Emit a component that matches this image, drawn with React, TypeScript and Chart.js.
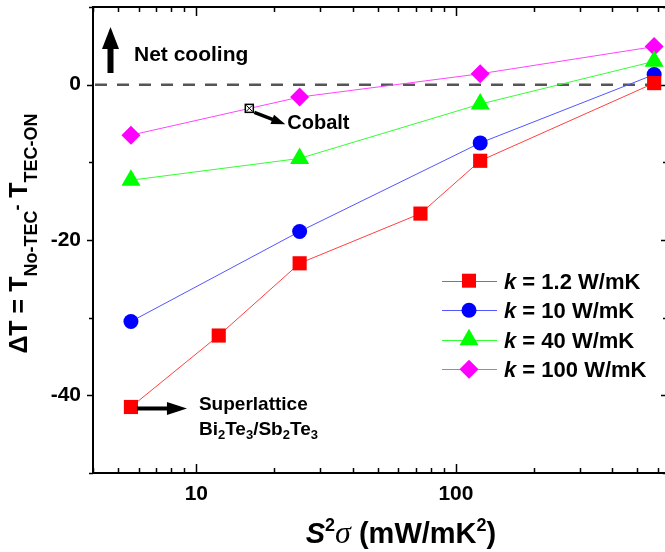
import { useEffect, useRef } from "react";
import { Chart, registerables } from "chart.js";

Chart.register(...registerables);

// Power factor S²σ (mW/mK²) and temperature difference ΔT (K)
const xK1p2 = [5.6, 12.2, 25, 73, 124, 580];
const dTK1p2 = [-41.5, -32.3, -23.0, -16.6, -9.8, 0.2];
const xSweep = [5.6, 25, 124, 580];
const dTK10 = [-30.5, -18.9, -7.5, 1.3];
const dTK40 = [-12.3, -9.5, -2.5, 3.0];
const dTK100 = [-6.5, -1.6, 1.4, 4.9];

const kLabels = ["1.2", "10", "40", "100"];
const seriesColors = ["#ff0000", "#0000ff", "#00ff00", "#ff00ff"];
const lineColors = ["#ff4040", "#5555ff", "#33ff33", "#ff44ff"];

// Cobalt reference point on the k = 100 W/mK curve
const cobaltX = [16];
const cobaltY = [-3.05];

const xMajorTicks = [10, 100];
const xMinorTicks = [4, 5, 6, 7, 8, 9, 20, 30, 40, 50, 60, 70, 80, 90, 200, 300, 400, 500, 600];
const yMajorTicks = [-40, -20, 0];
const yMinorTicks = [-50, -30, -10, 10];

const FONT = "'Liberation Sans', Arial, sans-serif";
const PLOT_TOP = 7;

type Run = { t: string; font: string; dy?: number };

function runsWidth(ctx: CanvasRenderingContext2D, runs: Run[]) {
  let w = 0;
  for (const r of runs) {
    ctx.font = r.font;
    w += ctx.measureText(r.t).width;
  }
  return w;
}

function drawRuns(ctx: CanvasRenderingContext2D, runs: Run[], x: number, y: number, align: "left" | "center") {
  let cx = align === "center" ? x - runsWidth(ctx, runs) / 2 : x;
  ctx.textAlign = "left";
  ctx.textBaseline = "alphabetic";
  for (const r of runs) {
    ctx.font = r.font;
    ctx.fillText(r.t, cx, y + (r.dy || 0));
    cx += ctx.measureText(r.t).width;
  }
}

function arrow(ctx: CanvasRenderingContext2D, x0: number, y0: number, x1: number, y1: number, shaft: number, headLen: number, headW: number) {
  const a = Math.atan2(y1 - y0, x1 - x0);
  const len = Math.hypot(x1 - x0, y1 - y0);
  ctx.save();
  ctx.translate(x0, y0);
  ctx.rotate(a);
  ctx.fillStyle = "#000";
  ctx.fillRect(0, -shaft / 2, len - headLen + 1, shaft);
  ctx.beginPath();
  ctx.moveTo(len, 0);
  ctx.lineTo(len - headLen, -headW / 2);
  ctx.lineTo(len - headLen, headW / 2);
  ctx.closePath();
  ctx.fill();
  ctx.restore();
}

function drawMarker(ctx: CanvasRenderingContext2D, style: string, x: number, y: number, color: string) {
  ctx.fillStyle = color;
  ctx.beginPath();
  if (style === "rect") {
    ctx.rect(x - 7, y - 7, 14, 14);
  } else if (style === "circle") {
    ctx.arc(x, y, 7.5, 0, Math.PI * 2);
  } else if (style === "triangle") {
    const r = 11;
    ctx.moveTo(x, y - r);
    ctx.lineTo(x + r * 0.866, y + r * 0.5);
    ctx.lineTo(x - r * 0.866, y + r * 0.5);
    ctx.closePath();
  } else {
    const r = 9.5;
    ctx.moveTo(x - r, y);
    ctx.lineTo(x, y - r);
    ctx.lineTo(x + r, y);
    ctx.lineTo(x, y + r);
    ctx.closePath();
  }
  ctx.fill();
}

const markerStyles = ["rect", "circle", "triangle", "rectRot"];

// Pin the top of the plot area so the frame starts just below the canvas edge
const plotTop = {
  id: "plotTop",
  afterLayout(chart: any) {
    const ys = chart.scales.y;
    const area = chart.chartArea;
    ys.top = PLOT_TOP;
    ys.bottom = area.bottom;
    ys.height = area.bottom - PLOT_TOP;
    ys.configure();
    area.top = PLOT_TOP;
    area.height = area.bottom - PLOT_TOP;
  },
};

const underlay = {
  id: "zeroLine",
  beforeDatasetsDraw(chart: any) {
    const { ctx, chartArea, scales } = chart;
    const y0 = scales.y.getPixelForValue(0);
    ctx.save();
    ctx.strokeStyle = "#555555";
    ctx.lineWidth = 2.5;
    ctx.setLineDash([12, 10]);
    ctx.beginPath();
    ctx.moveTo(chartArea.left + 2, y0);
    ctx.lineTo(chartArea.right, y0);
    ctx.stroke();
    ctx.restore();
  },
};

const overlay = {
  id: "frameAndNotes",
  afterDraw(chart: any) {
    const { ctx, chartArea, scales } = chart;
    const xs = scales.x;
    const ys = scales.y;
    const L = chartArea.left;
    const R = chartArea.right;
    const T = chartArea.top;
    const B = chartArea.bottom;
    ctx.save();

    // frame
    ctx.strokeStyle = "#000";
    ctx.lineWidth = 2;
    ctx.strokeRect(L, T, R - L, B - T);

    // x ticks, pointing inward on bottom and top edges
    ctx.lineWidth = 1.5;
    ctx.beginPath();
    for (const v of xMajorTicks) {
      const p = Math.round(xs.getPixelForValue(v)) + 0.5;
      ctx.moveTo(p, B); ctx.lineTo(p, B - 9);
      ctx.moveTo(p, T); ctx.lineTo(p, T + 9);
    }
    for (const v of xMinorTicks) {
      const p = Math.round(xs.getPixelForValue(v)) + 0.5;
      ctx.moveTo(p, B); ctx.lineTo(p, B - 5);
      ctx.moveTo(p, T); ctx.lineTo(p, T + 5);
    }
    // y ticks, pointing outward on the left edge and inward on the right edge
    for (const v of yMajorTicks) {
      const p = Math.round(ys.getPixelForValue(v)) + 0.5;
      ctx.moveTo(L, p); ctx.lineTo(L - 6, p);
      ctx.moveTo(R, p); ctx.lineTo(R - 6, p);
    }
    for (const v of yMinorTicks) {
      const p = Math.round(ys.getPixelForValue(v)) + 0.5;
      ctx.moveTo(L, p); ctx.lineTo(L - 4, p);
      ctx.moveTo(R, p); ctx.lineTo(R - 4, p);
    }
    ctx.stroke();

    ctx.fillStyle = "#000";

    // Net cooling note
    arrow(ctx, 110.5, 73, 110.5, 27, 6, 22, 17);
    drawRuns(ctx, [{ t: "Net cooling", font: `bold 21px ${FONT}` }], 134, 61, "left");

    // Cobalt marker and note
    const cx = xs.getPixelForValue(cobaltX[0]);
    const cy = ys.getPixelForValue(cobaltY[0]);
    ctx.fillStyle = "#fff";
    ctx.fillRect(cx - 4, cy - 4, 8, 8);
    ctx.strokeStyle = "#000";
    ctx.lineWidth = 1.5;
    ctx.strokeRect(cx - 4, cy - 4, 8, 8);
    ctx.lineWidth = 1;
    ctx.beginPath();
    ctx.moveTo(cx - 3, cy - 3); ctx.lineTo(cx + 3, cy + 3);
    ctx.moveTo(cx + 3, cy - 3); ctx.lineTo(cx - 3, cy + 3);
    ctx.stroke();
    arrow(ctx, cx + 5, cy + 4, cx + 36, cy + 16, 3.5, 14, 10);
    ctx.fillStyle = "#000";
    drawRuns(ctx, [{ t: "Cobalt", font: `bold 20px ${FONT}` }], cx + 38, cy + 21, "left");

    // Superlattice note next to the lowest k = 1.2 W/mK point
    const sx = xs.getPixelForValue(xK1p2[0]);
    const sy = ys.getPixelForValue(dTK1p2[0]);
    arrow(ctx, sx + 6, sy + 1.5, sx + 56, sy + 1.5, 4, 20, 13);
    const f19 = `bold 19px ${FONT}`;
    const f13 = `bold 13px ${FONT}`;
    drawRuns(ctx, [{ t: "Superlattice", font: f19 }], sx + 68, sy + 3, "left");
    drawRuns(
      ctx,
      [
        { t: "Bi", font: f19 },
        { t: "2", font: f13, dy: 4 },
        { t: "Te", font: f19 },
        { t: "3", font: f13, dy: 4 },
        { t: "/Sb", font: f19 },
        { t: "2", font: f13, dy: 4 },
        { t: "Te", font: f19 },
        { t: "3", font: f13, dy: 4 },
      ],
      sx + 68,
      sy + 28,
      "left"
    );

    // legend
    const legendTop = 280.7;
    const legendGap = 29.5;
    for (let i = 0; i < kLabels.length; i++) {
      const y = legendTop + i * legendGap;
      ctx.strokeStyle = lineColors[i];
      ctx.lineWidth = 1;
      ctx.beginPath();
      ctx.moveTo(442, Math.round(y) + 0.5);
      ctx.lineTo(497, Math.round(y) + 0.5);
      ctx.stroke();
      drawMarker(ctx, markerStyles[i], 469, y, seriesColors[i]);
      ctx.fillStyle = "#000";
      drawRuns(
        ctx,
        [
          { t: "k", font: `italic bold 22px ${FONT}` },
          { t: " = " + kLabels[i] + " W/mK", font: `bold 22px ${FONT}` },
        ],
        504,
        y + 8,
        "left"
      );
    }

    // x-axis title
    ctx.fillStyle = "#000";
    drawRuns(
      ctx,
      [
        { t: "S", font: `italic bold 29px ${FONT}` },
        { t: "2", font: `bold 18px ${FONT}`, dy: -12 },
        { t: "σ", font: `italic 32px 'Liberation Serif', serif` },
        { t: " (mW/mK", font: `bold 29px ${FONT}` },
        { t: "2", font: `bold 18px ${FONT}`, dy: -12 },
        { t: ")", font: `bold 29px ${FONT}` },
      ],
      401,
      543,
      "center"
    );

    // y-axis title
    ctx.save();
    ctx.translate(27, 233.5);
    ctx.rotate(-Math.PI / 2);
    const main = `bold 25px ${FONT}`;
    const sub = `bold 18px ${FONT}`;
    drawRuns(
      ctx,
      [
        { t: "ΔT = T", font: main },
        { t: "No-TEC", font: sub, dy: 10 },
        { t: "-", font: sub, dy: -4 },
        { t: " T", font: main },
        { t: "TEC-ON", font: sub, dy: 10 },
      ],
      0,
      0,
      "center"
    );
    ctx.restore();

    ctx.restore();
  },
};

export default function App() {
  const ref = useRef<HTMLCanvasElement | null>(null);

  useEffect(() => {
    if (!ref.current) return;
    const mk = (xs: number[], ys: number[]) => xs.map((x, i) => ({ x, y: ys[i] }));
    const dataSets = [
      mk(xK1p2, dTK1p2),
      mk(xSweep, dTK10),
      mk(xSweep, dTK40),
      mk(xSweep, dTK100),
    ];
    const radii = [10, 7.5, 11, 9.5];
    const chart = new Chart(ref.current, {
      type: "scatter",
      data: {
        datasets: dataSets.map((d, i) => ({
          label: `k = ${kLabels[i]} W/mK`,
          data: d,
          showLine: true,
          borderColor: lineColors[i],
          borderWidth: 1,
          backgroundColor: seriesColors[i],
          pointBackgroundColor: seriesColors[i],
          pointBorderColor: seriesColors[i],
          pointBorderWidth: 0,
          pointStyle: markerStyles[i] as any,
          pointRadius: radii[i],
          pointHoverRadius: radii[i],
        })),
      },
      options: {
        animation: false,
        responsive: false,
        devicePixelRatio: 1,
        layout: { padding: { top: 7, right: 13, left: 0, bottom: 0 } },
        plugins: { legend: { display: false }, tooltip: { enabled: false } },
        scales: {
          x: {
            type: "logarithmic",
            min: 4,
            max: 650,
            grid: { display: false, drawTicks: false },
            border: { display: false },
            ticks: {
              color: "#000",
              font: { family: FONT, size: 21, weight: "bold" },
              padding: 9,
              autoSkip: false,
              maxRotation: 0,
              callback: (v: any) => String(v),
            },
            afterBuildTicks: (s: any) => {
              s.ticks = xMajorTicks.map((v) => ({ value: v }));
            },
            afterFit: (s: any) => {
              s.height = 79;
              s.paddingLeft = 0;
              s.paddingRight = 0;
            },
          },
          y: {
            min: -50,
            max: 10,
            grid: { display: false, drawTicks: false },
            border: { display: false },
            ticks: {
              color: "#000",
              font: { family: FONT, size: 21, weight: "bold", lineHeight: 0.5 },
              padding: 12,
              callback: (v: any) => String(v),
            },
            afterBuildTicks: (s: any) => {
              s.ticks = yMajorTicks.map((v) => ({ value: v }));
            },
            afterFit: (s: any) => {
              s.width = 93;
              s.paddingTop = 0;
              s.paddingBottom = 0;
            },
          },
        },
      },
      plugins: [plotTop, underlay, overlay],
    });
    return () => chart.destroy();
  }, []);

  return (
    <div style={{ position: "fixed", left: 0, top: 0, width: 665, height: 552, overflow: "hidden", background: "#fff" }}>
      <canvas ref={ref} width={680} height={552} style={{ display: "block" }} />
    </div>
  );
}
